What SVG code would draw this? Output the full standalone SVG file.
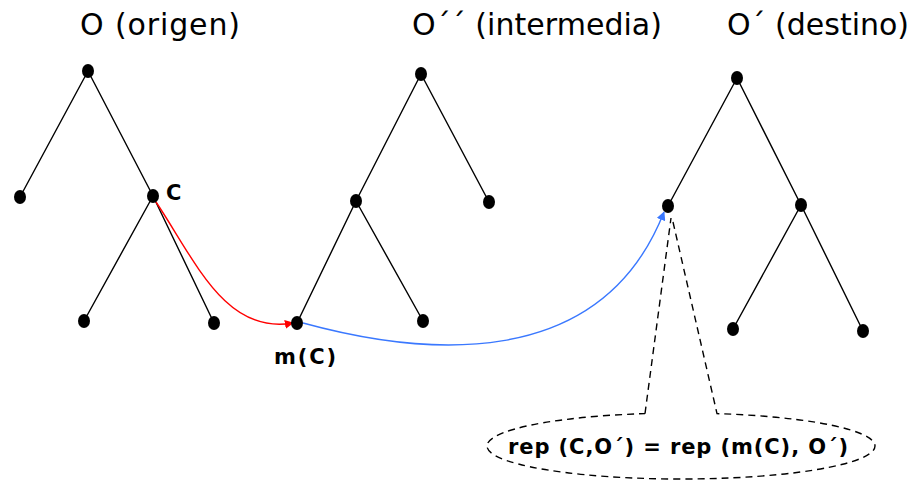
<svg xmlns="http://www.w3.org/2000/svg" width="920" height="482" viewBox="0 0 920 482">
<defs>
<style>
.title{font-family:"DejaVu Sans",sans-serif;font-size:30px;fill:#000}
.lbl{font-family:"DejaVu Sans",sans-serif;font-size:21px;font-weight:bold;fill:#000}
.edge{stroke:#000;stroke-width:1.4;fill:none}
.node{fill:#000}
.dash{stroke:#000;stroke-width:1.4;fill:none;stroke-dasharray:7,5}
</style>
<marker id="ar" viewBox="0 0 10 10" refX="9" refY="5" markerWidth="9" markerHeight="9" markerUnits="userSpaceOnUse" orient="auto"><path d="M0,0 L10,5 L0,10 z" fill="#ff0000"/></marker>
<marker id="ab" viewBox="0 0 10 10" refX="9" refY="5" markerWidth="9" markerHeight="9" markerUnits="userSpaceOnUse" orient="auto"><path d="M0,0 L10,5 L0,10 z" fill="#3a78ff"/></marker>
</defs>
<rect width="920" height="482" fill="#fff"/>
<text class="title" x="80" y="35" textLength="160" lengthAdjust="spacing">O (origen)</text>
<text class="title" x="412" y="35" textLength="250" lengthAdjust="spacing">O´´ (intermedia)</text>
<text class="title" x="727" y="35" textLength="182" lengthAdjust="spacing">O´ (destino)</text>
<g id="edges">
<path class="edge" d="M88,71 L20,197 M88,71 L153,196 M153,196 L84,321 M153,196 L214,323"/>
<path class="edge" d="M421,74 L356,201 M421,74 L489,202 M356,201 L297,323 M356,201 L423,321"/>
<path class="edge" d="M737,78 L668,206 M737,78 L801,205 M801,205 L733,329 M801,205 L863,331"/>
</g>
<g id="connectors">
<path d="M156,202 C195,260 225,335 293,323" stroke="#ff0000" stroke-width="1.4" fill="none" marker-end="url(#ar)"/>
<path d="M303,323 C420,355 600,375 664,212" stroke="#3a78ff" stroke-width="1.4" fill="none" marker-end="url(#ab)"/>
</g>
<g id="tree1">
<ellipse class="node" cx="88" cy="71" rx="6" ry="7"/>
<ellipse class="node" cx="20" cy="197" rx="6" ry="7"/>
<g id="nodeC"><ellipse class="node" cx="153" cy="196" rx="6" ry="7"/><text class="lbl" x="166" y="200">C</text></g>
<ellipse class="node" cx="84" cy="321" rx="6" ry="7"/>
<ellipse class="node" cx="214" cy="323" rx="6" ry="7"/>
</g>
<g id="tree2">
<ellipse class="node" cx="421" cy="74" rx="6" ry="7"/>
<ellipse class="node" cx="356" cy="201" rx="6" ry="7"/>
<ellipse class="node" cx="489" cy="202" rx="6" ry="7"/>
<g id="nodeMC"><ellipse class="node" cx="297" cy="323" rx="6" ry="7"/><text class="lbl" x="274" y="364" textLength="62" lengthAdjust="spacing">m(C)</text></g>
<ellipse class="node" cx="423" cy="321" rx="6" ry="7"/>
</g>
<g id="tree3">
<ellipse class="node" cx="737" cy="78" rx="6" ry="7"/>
<ellipse class="node" cx="668" cy="206" rx="6" ry="7"/>
<ellipse class="node" cx="801" cy="205" rx="6" ry="7"/>
<ellipse class="node" cx="733" cy="329" rx="6" ry="7"/>
<ellipse class="node" cx="863" cy="331" rx="6" ry="7"/>
</g>
<g id="callout">
<path class="dash" d="M645,413.6 L671,218 M673,222 L717,413.6 A194,33 0 1 1 645,413.6"/>
<text class="lbl" x="508" y="454" textLength="340" lengthAdjust="spacing">rep (C,O´) = rep (m(C), O´)</text>
</g>
</svg>
